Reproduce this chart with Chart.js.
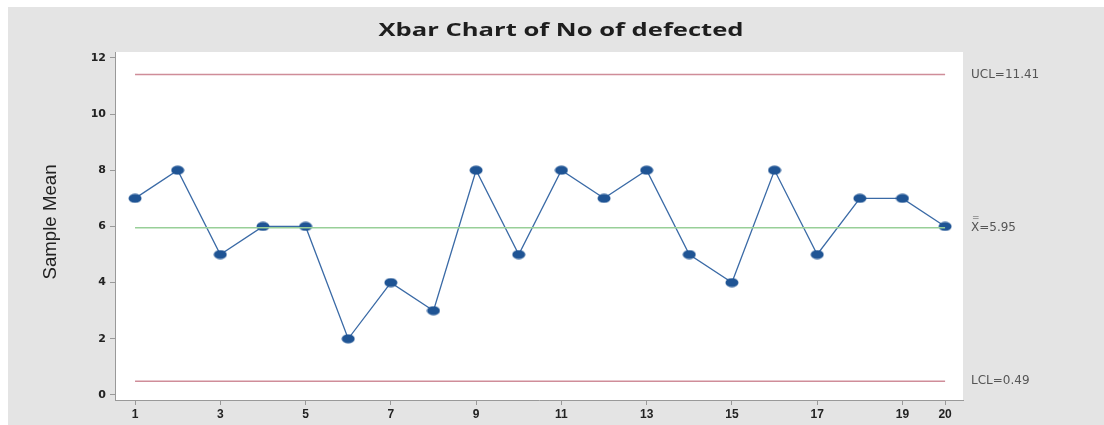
<!DOCTYPE html>
<html>
<head>
<meta charset="utf-8">
<script src="https://cdn.jsdelivr.net/npm/chart.js@4/dist/chart.umd.min.js"></script>
<style>
  body { margin: 0; background: #fff; }
  canvas { display: block; }
</style>
</head>
<body>
<canvas id="xbar-chart" width="1104" height="425"></canvas>
<script>
const samples = [1, 2, 3, 4, 5, 6, 7, 8, 9, 10, 11, 12, 13, 14, 15, 16, 17, 18, 19, 20]
const sampleMeans = [7, 8, 5, 6, 6, 2, 4, 3, 8, 5, 8, 7, 8, 5, 4, 8, 5, 7, 7, 6]
const xTicks = [1, 3, 5, 7, 9, 11, 13, 15, 17, 19, 20]
const yTicks = [0, 2, 4, 6, 8, 10, 12]
const ucl = 11.41
const center = 5.95
const lcl = 0.49

const limitLine = (v) => [{ x: samples[0], y: v }, { x: samples[samples.length - 1], y: v }]

// minitab draws its points as slightly flat ellipses
const dot = document.createElement('canvas')
dot.width = 14
dot.height = 10
{
  const c = dot.getContext('2d')
  c.fillStyle = '#1f5494'
  c.beginPath()
  c.ellipse(7, 5, 6.5, 4.6, 0, 0, Math.PI * 2)
  c.fill()
}

// text drawn a bit wider, like the stretched screenshot
function wideText(ctx, text, x, y, targetWidth) {
  const w = ctx.measureText(text).width
  ctx.save()
  ctx.translate(x, y)
  ctx.scale(targetWidth / w, 1)
  ctx.textAlign = 'center'
  ctx.fillText(text, 0, 0)
  ctx.restore()
}

const panel = {
  id: 'panel',
  beforeDraw(chart) {
    const { ctx, width, height } = chart
    ctx.save()
    ctx.fillStyle = '#ffffff'
    ctx.fillRect(0, 0, width, height)
    ctx.fillStyle = '#e4e4e4'
    ctx.fillRect(8, 7, width - 8, height - 7)
    const a = chart.chartArea
    ctx.fillStyle = '#ffffff'
    ctx.fillRect(a.left, a.top, a.right - a.left, a.bottom - a.top)
    ctx.restore()
  },
  afterDraw(chart) {
    const { ctx } = chart
    const y = chart.scales.y
    const a = chart.chartArea
    ctx.save()
    ctx.textBaseline = 'middle'

    // title
    ctx.fillStyle = '#1e1e1e'
    ctx.font = 'bold 18px "Open Sans", sans-serif'
    wideText(ctx, 'Xbar Chart of No of defected', 561, 31, 365)

    // y axis title
    ctx.fillStyle = '#222'
    ctx.font = '19px "Liberation Sans Narrow", "Liberation Sans", sans-serif'
    ctx.save()
    ctx.translate(51, (a.top + a.bottom) / 2 - 4)
    ctx.rotate(-Math.PI / 2)
    wideText(ctx, 'Sample Mean', 0, 0, 115)
    ctx.restore()

    // control limit labels
    const x0 = a.right + 8
    ctx.fillStyle = '#555'
    ctx.font = '12px "DejaVu Sans", sans-serif'
    ctx.textAlign = 'left'
    ctx.fillText('UCL=11.41', x0, y.getPixelForValue(ucl))
    ctx.fillText('X=5.95', x0, y.getPixelForValue(center))
    ctx.fillText('LCL=0.49', x0, y.getPixelForValue(lcl))
    ctx.font = '9px "DejaVu Sans", sans-serif'
    ctx.fillText('=', x0 + 1, y.getPixelForValue(center) - 10)
    ctx.restore()
  },
}

new Chart(document.getElementById('xbar-chart'), {
  type: 'line',
  data: {
    datasets: [
      {
        label: 'UCL',
        data: limitLine(ucl),
        borderColor: '#cf8d99',
        borderWidth: 1.5,
        pointRadius: 0,
      },
      {
        label: 'Center',
        data: limitLine(center),
        borderColor: '#98cf98',
        borderWidth: 1.5,
        pointRadius: 0,
      },
      {
        label: 'LCL',
        data: limitLine(lcl),
        borderColor: '#cf8d99',
        borderWidth: 1.5,
        pointRadius: 0,
      },
      {
        label: 'Sample Mean',
        data: samples.map((s, i) => ({ x: s, y: sampleMeans[i] })),
        borderColor: '#3a6aa6',
        borderWidth: 1.3,
        pointStyle: dot,
      },
    ],
  },
  options: {
    responsive: false,
    animation: false,
    layout: { padding: { left: 0, top: 52, right: 141, bottom: 0 } },
    plugins: {
      legend: { display: false },
      tooltip: { enabled: false },
    },
    scales: {
      x: {
        type: 'linear',
        min: 0.53,
        max: 20.42,
        afterBuildTicks: (s) => { s.ticks = xTicks.map((v) => ({ value: v })) },
        afterFit: (s) => { s.height = 25 },
        ticks: {
          color: '#222',
          font: { family: '"Liberation Sans Narrow", "Liberation Sans", sans-serif', size: 12, weight: 'bold' },
          padding: 2,
          maxRotation: 0,
        },
        grid: { drawOnChartArea: false, tickLength: 5, color: '#999' },
        border: { color: '#999' },
      },
      y: {
        min: -0.18,
        max: 12.21,
        afterBuildTicks: (s) => { s.ticks = yTicks.map((v) => ({ value: v })) },
        afterFit: (s) => { s.width = 115 },
        ticks: {
          color: '#222',
          font: { family: '"DejaVu Sans", sans-serif', size: 11, weight: 'bold' },
          padding: 4,
        },
        grid: { drawOnChartArea: false, tickLength: 5, color: '#999' },
        border: { color: '#999' },
      },
    },
  },
  plugins: [panel],
})
</script>
</body>
</html>
